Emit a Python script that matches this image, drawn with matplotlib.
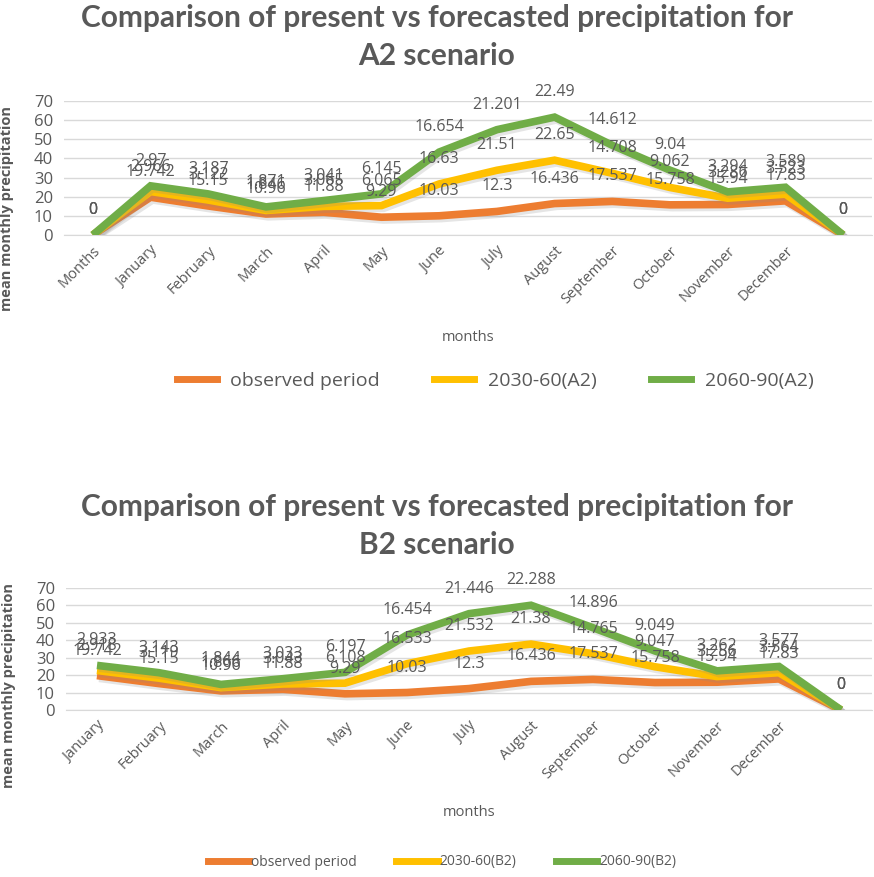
import numpy as np
import matplotlib
matplotlib.use("Agg")
import matplotlib.pyplot as plt
import matplotlib.patheffects as pe
from matplotlib.lines import Line2D

# ---- data -------------------------------------------------------------
months_a2 = ["Months", "January", "February", "March", "April", "May", "June",
             "July", "August", "September", "October", "November", "December", ""]
observed_a2 = [0, 19.742, 15.15, 10.96, 11.88, 9.29, 10.03, 12.3, 16.436,
               17.537, 15.758, 15.94, 17.83, 0]
a2_2030_60 = [0, 2.966, 3.122, 1.846, 3.065, 6.065, 16.63, 21.51, 22.65,
              14.708, 9.062, 3.286, 3.523, 0]
a2_2060_90 = [0, 2.97, 3.187, 1.871, 3.041, 6.145, 16.654, 21.201, 22.49,
              14.612, 9.04, 3.294, 3.589, 0]

months_b2 = ["January", "February", "March", "April", "May", "June", "July",
             "August", "September", "October", "November", "December", ""]
observed_b2 = [19.742, 15.15, 10.96, 11.88, 9.29, 10.03, 12.3, 16.436,
               17.537, 15.758, 15.94, 17.83, 0]
b2_2030_60 = [2.918, 3.119, 1.866, 3.043, 6.108, 16.533, 21.532, 21.38,
              14.765, 9.047, 3.256, 3.564, 0]
b2_2060_90 = [2.933, 3.143, 1.844, 3.033, 6.197, 16.454, 21.446, 22.288,
              14.896, 9.049, 3.262, 3.577, 0]

colors = ["#ED7D31", "#FFC000", "#70AD47"]
text_gray = "#595959"
grid_gray = "#D9D9D9"
FONT = "Open Sans"

plt.rcParams["font.family"] = [FONT, "DejaVu Sans"]

W, H = 874, 877
fig = plt.figure(figsize=(W / 100, H / 100), dpi=100)


def px_axes(left, top, right, bottom):
    return fig.add_axes([left / W, 1 - bottom / H, (right - left) / W, (bottom - top) / H])


def fmt(v):
    return "{:g}".format(v)


def draw_panel(ax, cats, series, names, title, title_y, legend_xy, legend_kw):
    x = np.arange(len(cats))
    cum = np.zeros(len(cats))
    shadow = [pe.SimpleLineShadow(offset=(1.5, -2), shadow_color="#8a8a8a", alpha=0.22),
              pe.Normal()]
    for vals, col in zip(series, colors):
        cum = cum + np.asarray(vals, dtype=float)
        ax.plot(x, cum, color=col, lw=5.5, solid_joinstyle="miter",
                solid_capstyle="butt", path_effects=shadow, zorder=3)
        for xi, yi, v in zip(x, cum, vals):
            ax.annotate(fmt(v), (xi, yi), xytext=(0, 18), textcoords="offset points",
                        ha="center", va="center", fontsize=11.5, color=text_gray,
                        zorder=5)
    ax.set_xlim(-0.5, len(cats) - 0.5)
    ax.set_ylim(0, 70)
    ax.set_yticks(range(0, 71, 10))
    ax.set_xticks(x)
    ax.set_xticklabels(cats, rotation=45, ha="right", rotation_mode="anchor",
                       fontsize=10.5, color=text_gray)
    ax.tick_params(axis="y", labelsize=12, labelcolor=text_gray, length=0, pad=8)
    ax.tick_params(axis="x", length=0, pad=6)
    ax.grid(axis="y", color=grid_gray, lw=1)
    ax.set_axisbelow(True)
    for s in ["top", "right", "left"]:
        ax.spines[s].set_visible(False)
    ax.spines["bottom"].set_color(grid_gray)
    ax.set_ylabel("mean monthly precipitation", fontsize=10.5, fontweight="bold",
                  color=text_gray)
    ax.yaxis.set_label_coords(-0.062, 0.2)
    ax.set_xlabel("months", fontsize=10.5, color=text_gray, labelpad=16)

    fig.text(0.5, title_y, title, ha="center", va="center", fontsize=21.5,
             fontweight="bold", color=text_gray, family=["Lato", "DejaVu Sans"],
             linespacing=1.45)

    handles = [Line2D([], [], color=c, lw=5) for c in colors]
    leg = fig.legend(handles, names, loc="center", bbox_to_anchor=legend_xy,
                     ncol=3, frameon=False, **legend_kw)
    for t in leg.get_texts():
        t.set_color(text_gray)
    return ax


ax1 = px_axes(64, 101, 872, 235)
draw_panel(ax1, months_a2, [observed_a2, a2_2030_60, a2_2060_90],
           ["observed period", "2030-60(A2)", "2060-90(A2)"],
           "Comparison of present vs forecasted precipitation for\nA2 scenario",
           1 - 37 / H, (495 / W, 1 - 381 / H),
           dict(fontsize=14, handlelength=2.05, columnspacing=2.8, handletextpad=0.7))

ax2 = px_axes(66, 588, 872, 710)
draw_panel(ax2, months_b2, [observed_b2, b2_2030_60, b2_2060_90],
           ["observed period", "2030-60(B2)", "2060-90(B2)"],
           "Comparison of present vs forecasted precipitation for\nB2 scenario",
           1 - 526 / H, (442 / W, 1 - 862 / H),
           dict(fontsize=10, handlelength=3.0, columnspacing=2.8, handletextpad=0.15))

fig.savefig("out.png", dpi=100)
